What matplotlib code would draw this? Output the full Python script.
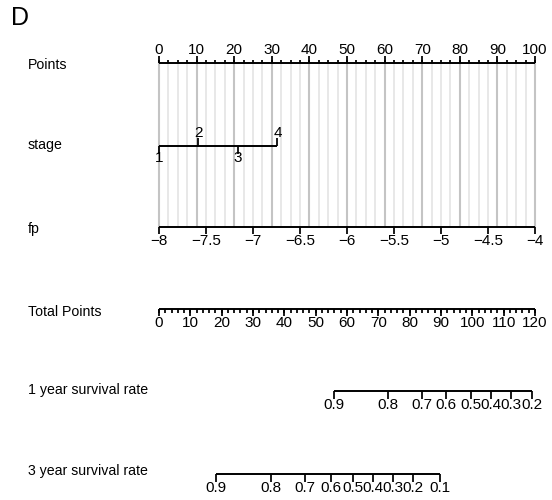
import matplotlib
matplotlib.use("Agg")
import matplotlib.pyplot as plt
import numpy as np

plt.rcParams['font.family'] = ['Liberation Sans', 'DejaVu Sans']

# ---- nomogram content ----
points_major = list(range(0, 101, 10))
points_minor = list(np.arange(0, 100.01, 2.5))

stage_levels = ['1', '2', '3', '4']
stage_points = [0, 10.5, 21, 31.5]

fp_ticks = [-8, -7.5, -7, -6.5, -6, -5.5, -5, -4.5, -4]
fp_tick_labels = ['\u22128', '\u22127.5', '\u22127', '\u22126.5', '\u22126',
                  '\u22125.5', '\u22125', '\u22124.5', '\u22124']
fp_range = (-8, -4)          # fp value at 0 and 100 points

total_major = list(range(0, 121, 10))
total_minor = list(range(0, 121, 2))
total_max = 120

surv1_labels = ['0.9', '0.8', '0.7', '0.6', '0.5', '0.4', '0.3', '0.2']
surv1_total = [55.9, 73.2, 84.0, 91.6, 99.5, 106.0, 112.3, 119.0]

surv3_labels = ['0.9', '0.8', '0.7', '0.6', '0.5', '0.4', '0.3', '0.2', '0.1']
surv3_total = [18.2, 35.7, 46.6, 54.9, 61.8, 68.4, 74.8, 81.2, 89.7]

row_names = ['Points', 'stage', 'fp', 'Total Points',
             '1 year survival rate', '3 year survival rate']

# ---- layout ----
W, H = 552, 500
fig = plt.figure(figsize=(W / 100, H / 100), dpi=100)
ax = fig.add_axes([0, 0, 1, 1])
x0_px, x1_px = 159, 535
scale = (x1_px - x0_px) / 100.0
ax.set_xlim(-x0_px / scale, (W - x0_px) / scale)
ax.set_ylim(H, 0)
ax.axis('off')

row_y = {'Points': 63, 'stage': 146, 'fp': 227, 'Total Points': 309,
         '1 year survival rate': 391, '3 year survival rate': 474}
label_y = {'Points': 65, 'stage': 145, 'fp': 229, 'Total Points': 312,
           '1 year survival rate': 390, '3 year survival rate': 471}

FS_NAME = 10.2
FS = 11
LW = 1.4
name_x = (28 - x0_px) / scale

def tot2pts(t):
    return np.asarray(t, dtype=float) * 100.0 / total_max

# vertical reference lines
y_top, y_bot = row_y['Points'], row_y['fp']
for p in points_minor:
    major = abs(p / 10 - round(p / 10)) < 1e-9
    ax.plot([p, p], [y_top, y_bot], color='#c4c4c4' if major else '#e2e2e2',
            lw=1.5 if major else 1.1, zorder=1, solid_capstyle='butt')

# row names
for name in row_names:
    ax.text(name_x, label_y[name], name, fontsize=FS_NAME, ha='left', va='center')

ax.text((11 - x0_px) / scale, 18, 'D', fontsize=18, ha='left', va='center')

def hline(xa, xb, y):
    ax.plot([xa, xb], [y, y], color='black', lw=LW, zorder=3,
            solid_capstyle='butt')

def tick(x, y, length):
    ax.plot([x, x], [y, y + length], color='black', lw=LW * 0.9, zorder=3,
            solid_capstyle='butt')

# Points axis (ticks up)
y = row_y['Points']
hline(0, 100, y)
for p in points_minor:
    tick(p, y, -3)
for p in points_major:
    tick(p, y, -7)
    ax.text(p, y - 6, str(p), fontsize=FS, ha='center', va='bottom')

# stage axis (alternating labels)
y = row_y['stage']
hline(stage_points[0], stage_points[-1], y)
for i, (lab, p) in enumerate(zip(stage_levels, stage_points)):
    if i % 2 == 1:
        tick(p, y, -8)
        ax.text(p, y - 6, lab, fontsize=FS, ha='center', va='bottom')
    else:
        tick(p, y, 8)
        ax.text(p, y + 5, lab, fontsize=FS, ha='center', va='top')

# fp axis
y = row_y['fp']
hline(0, 100, y)
for v, lab in zip(fp_ticks, fp_tick_labels):
    p = (v - fp_range[0]) / (fp_range[1] - fp_range[0]) * 100
    tick(p, y, 7)
    ax.text(p, y + 7, lab, fontsize=FS, ha='center', va='top')

# Total points axis
y = row_y['Total Points']
hline(0, 100, y)
for t in total_minor:
    tick(tot2pts(t), y, 4)
for t in total_major:
    tick(tot2pts(t), y, 7)
    ax.text(tot2pts(t), y + 7, str(t), fontsize=FS, ha='center', va='top')

# survival axes
for name, labs, tots in [('1 year survival rate', surv1_labels, surv1_total),
                         ('3 year survival rate', surv3_labels, surv3_total)]:
    y = row_y[name]
    xs = tot2pts(tots)
    hline(xs[0], xs[-1], y)
    for lab, xv in zip(labs, xs):
        tick(xv, y, 8)
        ax.text(xv, y + 7, lab, fontsize=FS, ha='center', va='top')

fig.savefig('out.png', dpi=100, facecolor='white')
